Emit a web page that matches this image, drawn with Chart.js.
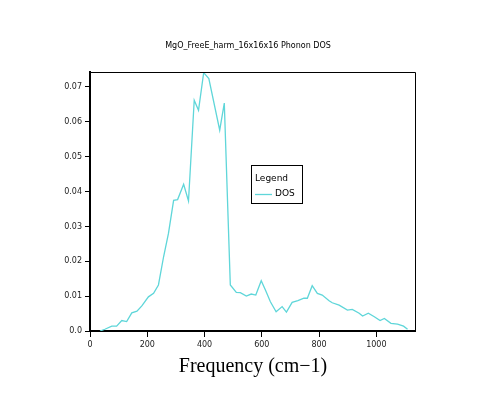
<!DOCTYPE html>
<html lang="en">
<head>
  <meta charset="UTF-8">
  <title>MgO Phonon DOS</title>
  <script src="https://cdn.jsdelivr.net/npm/chart.js"></script>
  <style>
    body { margin: 0; background: #fff; }
    #wrap { width: 501px; height: 404px; }
  </style>
</head>
<body>
  <div id="wrap"><canvas id="dosChart" width="501" height="404"></canvas></div>

  <script>
    const chartTitle = 'MgO_FreeE_harm_16x16x16 Phonon DOS';
    const xTitle = 'Frequency (cm\u22121)';
    const seriesName = 'DOS';

    // frequency (cm-1) and DOS
    const freq = [35, 52, 76, 93, 111, 128, 146, 164, 181, 204, 222, 239, 257, 274, 292, 306,
      327, 344, 364, 379, 397, 415, 453, 469, 490, 511, 525, 546, 563, 579, 598, 613, 630,
      650, 671, 686, 706, 726, 747, 759, 776, 794, 811, 835, 846, 870, 899, 916, 940, 952,
      972, 993, 1013, 1028, 1051, 1074, 1095, 1109];
    const dos = [0, 0.0005, 0.0014, 0.0014, 0.003, 0.0027, 0.0052, 0.0057, 0.0072, 0.0098,
      0.0108, 0.0132, 0.0213, 0.028, 0.0375, 0.0377, 0.0421, 0.0373, 0.0662, 0.0633, 0.0741,
      0.0724, 0.0576, 0.0654, 0.0132, 0.0111, 0.011, 0.01, 0.0106, 0.0103, 0.0144, 0.0117,
      0.0084, 0.0055, 0.007, 0.0054, 0.0082, 0.0087, 0.0094, 0.0094, 0.013, 0.0108, 0.0103,
      0.0087, 0.0081, 0.0074, 0.006, 0.0062, 0.0051, 0.0043, 0.0051, 0.0041, 0.003, 0.0036,
      0.0022, 0.002, 0.0014, 0.0005];

    const xTicks = ['0', '200', '400', '600', '800', '1000'];
    const yTicks = ['0.0', '0.01', '0.02', '0.03', '0.04', '0.05', '0.06', '0.07'];

    const lineColor = '#5fd6d9';

    const extras = {
      id: 'extras',
      afterDraw(chart) {
        const { ctx, chartArea: a } = chart;
        ctx.save();
        // thin top / right frame
        ctx.strokeStyle = '#000';
        ctx.lineWidth = 1;
        ctx.beginPath();
        ctx.moveTo(a.left, a.top + 0.5);
        ctx.lineTo(a.right + 0.5, a.top + 0.5);
        ctx.lineTo(a.right + 0.5, a.bottom);
        ctx.stroke();

        ctx.fillStyle = '#000';
        ctx.textAlign = 'center';
        ctx.textBaseline = 'middle';
        ctx.font = '8px "DejaVu Sans"';
        ctx.fillText(chartTitle, 248, 46);

        ctx.font = '20px "Liberation Serif"';
        ctx.fillText(xTitle, 253, 367);

        // legend box
        ctx.fillStyle = '#fff';
        ctx.fillRect(251.5, 165.5, 51, 38);
        ctx.strokeRect(251.5, 165.5, 51, 38);
        ctx.fillStyle = '#000';
        ctx.textAlign = 'left';
        ctx.font = '9px "DejaVu Sans"';
        ctx.fillText('Legend', 255, 179);
        ctx.fillText(seriesName, 275, 194);
        ctx.strokeStyle = lineColor;
        ctx.lineWidth = 1.3;
        ctx.beginPath();
        ctx.moveTo(255, 194.5);
        ctx.lineTo(272, 194.5);
        ctx.stroke();
        ctx.restore();
      }
    };

    new Chart(document.getElementById('dosChart'), {
      type: 'line',
      data: {
        datasets: [{
          label: seriesName,
          data: freq.map((f, i) => ({ x: f, y: dos[i] })),
          borderColor: lineColor,
          borderWidth: 1.3,
          pointRadius: 0,
          tension: 0,
          fill: false
        }]
      },
      options: {
        responsive: false,
        animation: false,
        devicePixelRatio: 1,
        layout: { padding: { top: 72, right: 86, left: 0, bottom: 0 } },
        plugins: {
          legend: { display: false },
          title: { display: false },
          tooltip: { enabled: false }
        },
        scales: {
          x: {
            type: 'linear',
            min: 0,
            max: 1135,
            afterFit: s => { s.height = 73; },
            afterBuildTicks: s => { s.ticks = xTicks.map(v => ({ value: parseFloat(v) })); },
            ticks: {
              font: { size: 8, family: 'DejaVu Sans' }, color: '#222', padding: 3, maxRotation: 0,
              callback: (v, i) => xTicks[i]
            },
            grid: { drawOnChartArea: false, drawTicks: true, tickLength: 6, color: '#000' },
            border: { color: '#000', width: 2 }
          },
          y: {
            min: 0,
            max: 0.0743,
            afterFit: s => { s.width = 90; },
            afterBuildTicks: s => { s.ticks = yTicks.map(v => ({ value: parseFloat(v) })); },
            ticks: {
              font: { size: 8, family: 'DejaVu Sans' }, color: '#222', padding: 3,
              callback: (v, i) => yTicks[i]
            },
            grid: { drawOnChartArea: false, drawTicks: true, tickLength: 5, color: '#000' },
            border: { color: '#000', width: 2 }
          }
        }
      },
      plugins: [extras]
    });
  </script>
</body>
</html>
